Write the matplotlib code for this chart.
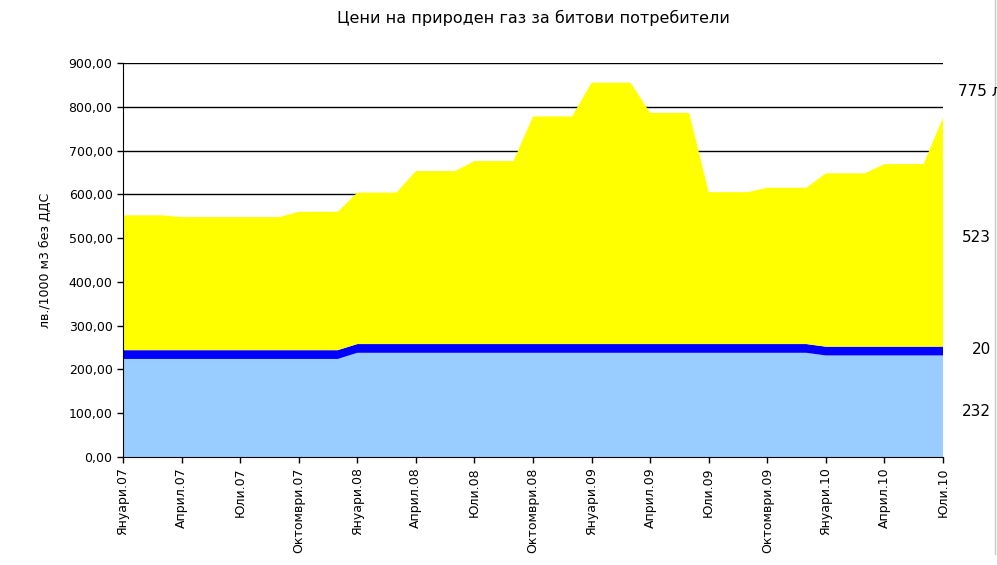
import matplotlib.pyplot as plt
import numpy as np
from matplotlib.lines import Line2D

# Месеци (януари 2007 - юли 2010)
month_names = ['Януари', 'Февруари', 'Март', 'Април', 'Май', 'Юни', 'Юли',
               'Август', 'Септември', 'Октомври', 'Ноември', 'Декември']
months = [f'{month_names[i % 12]}.{7 + i // 12:02d}' for i in range(43)]

# Обща цена (лв./1000 м3), по месеци
total = [552, 552, 552, 548, 548, 548, 548, 548, 548, 560, 560, 560,
         604, 604, 604, 653, 653, 653, 676, 676, 676, 778, 778, 778,
         855, 855, 855, 786, 786, 786, 605, 605, 605, 615, 615, 615,
         648, 648, 648, 669, 669, 669, 775]
# Долен компонент
base = [224] * 12 + [238] * 24 + [232] * 7
# Среден компонент
middle = [20] * 43
# Горен компонент = обща цена - останалите
upper = [t - b - m for t, b, m in zip(total, base, middle)]

end_labels = ['775 лв.', '523', '20', '232']
colors = ['#99CCFF', '#0000FF', '#FFFF00']

fig = plt.figure(figsize=(9.97, 5.65), dpi=100)
ax = fig.add_axes([123 / 997, 108 / 565, 820 / 997, 394 / 565])

x = np.arange(len(months))
ax.stackplot(x, base, middle, upper, colors=colors, linewidth=0)

ax.set_xlim(0, len(months) - 1)
ax.set_ylim(0, 900)
ax.set_yticks(np.arange(0, 901, 100))
ax.set_yticklabels([f'{v:.2f}'.replace('.', ',') for v in range(0, 901, 100)], fontsize=9)
ax.set_xticks(x[::3])
ax.set_xticklabels(months[::3], rotation=90, fontsize=9)
ax.tick_params(direction='out', length=4, width=1, color='black')

ax.set_axisbelow(True)
ax.grid(axis='y', color='black', linewidth=1)
for s in ['top', 'right']:
    ax.spines[s].set_visible(False)
for s in ['left', 'bottom']:
    ax.spines[s].set_color('black')

ax.set_ylabel('лв./1000 м3 без ДДС', fontsize=9, labelpad=12)

fig.text(533 / 997, 1 - 18 / 565, 'Цени на природен газ за битови потребители',
         ha='center', va='center', fontsize=11.5)

# Етикети вдясно
label_pos = [(958, 92, 'left'), (991, 237, 'right'), (991, 349, 'right'), (991, 412, 'right')]
for txt, (px, py, ha) in zip(end_labels, label_pos):
    fig.text(px / 997, 1 - py / 565, txt, ha=ha, va='center', fontsize=11)

fig.add_artist(Line2D([995 / 997, 995 / 997], [0.02, 1], color='#c8c8c8', linewidth=1))

fig.savefig('out.png', dpi=100)
